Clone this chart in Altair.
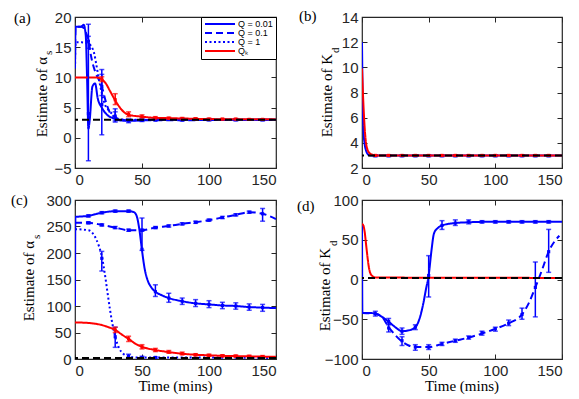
import altair as alt
import pandas as pd

SERIES = ["Q = 0.01", "Q = 0.1", "Q = 1", "Qₖ"]
SERIES_COLORS = ["#0000ff", "#0000ff", "#0000ff", "#ff0000"]
SERIES_DASH = [[1, 0], [7, 4], [2, 2.5], [1, 0]]
X_TICKS = [0, 50, 100, 150]
BLUE = "#0000ff"
RED = "#ff0000"

# ---------------- panel (a): estimate of alpha_s (low range) ----------------
A_Y_TICKS = [-5, 0, 5, 10, 15, 20]
A_TRUE = 3
A_Q001_T = [0, 0.4, 2, 4.5, 6.5, 8, 9, 10, 11, 13, 15, 17, 20, 24, 29, 33, 40, 50, 60, 150]
A_Q001_V = [11.5, 18.4, 18.4, 18.4, 18.7, 17, 10, 1.5, 3, 8.5, 9, 6.5, 5, 3.8, 3.2, 2.9, 2.8, 2.9, 3.0, 3.0]
A_Q01_T = [0, 0.4, 5, 8, 10, 12, 15, 18, 20, 23, 26, 30, 35, 40, 150]
A_Q01_V = [11.5, 18.4, 18.4, 17.5, 16.2, 13.5, 11, 9.5, 8.5, 6, 4.2, 3.4, 3.0, 2.9, 3.0]
A_Q1_T = [0, 0.4, 5, 9, 12, 14.5, 16, 18, 20, 22, 25, 28, 32, 40, 150]
A_Q1_V = [11.5, 15.8, 15.8, 15.7, 15.2, 13.8, 12, 9.5, 7.4, 5.7, 4.6, 3.9, 3.1, 3.0, 3.0]
A_QK_T = [0, 10, 15, 18, 20, 23, 26, 30, 35, 40, 50, 60, 70, 80, 100, 150]
A_QK_V = [10, 10, 10, 9.9, 9.7, 9.0, 7.8, 6.2, 4.6, 3.8, 3.5, 3.3, 3.25, 3.2, 3.1, 3.05]
A_EB_T = [10, 10, 20, 20, 30, 30, 40, 50, 60, 80, 100, 120, 140,
          20, 30, 40, 50, 60, 70, 80, 90, 100, 110, 120, 130, 140]
A_EB_LO = [-3.8, 14.8, 0.5, 7.0, 2.6, 2.8, 2.5, 2.7, 2.8, 2.8, 2.8, 2.8, 2.8,
           9.3, 5.5, 3.5, 3.3, 3.15, 3.1, 3.05, 3.0, 3.0, 3.0, 3.0, 2.95, 2.95]
A_EB_HI = [18.8, 16.8, 11.3, 10.5, 4.3, 4.8, 3.1, 3.1, 3.1, 3.1, 3.1, 3.1, 3.1,
           10.1, 7.3, 4.3, 3.8, 3.5, 3.4, 3.35, 3.3, 3.25, 3.2, 3.2, 3.15, 3.15]
A_EB_C = [4, 16, 5.5, 8.5, 3.3, 3.6, 2.8, 2.9, 2.95, 2.95, 3.0, 3.0, 3.0,
          9.7, 6.3, 3.9, 3.5, 3.3, 3.25, 3.2, 3.15, 3.1, 3.1, 3.1, 3.05, 3.05]
A_EB_COL = [BLUE] * 13 + [RED] * 13

# ---------------- panel (b): estimate of K_d (low range) ----------------
B_Y_TICKS = [2, 4, 6, 8, 10, 12, 14]
B_TRUE = 3
B_Q001_T = [0, 0.5, 1, 2, 3, 4, 6, 10, 150]
B_Q001_V = [12, 7.5, 5.2, 3.9, 3.4, 3.15, 3.0, 3.0, 3.0]
B_QK_T = [0, 1, 2, 3, 4, 6, 8, 12, 150]
B_QK_V = [9.9, 7.2, 5.2, 4.0, 3.5, 3.15, 3.05, 3.0, 3.0]
B_EB_T = [10, 20, 30, 40, 50, 60, 70, 80, 90, 100, 110, 120, 130, 140,
          10, 20, 30, 40, 50, 60, 70, 80, 90, 100, 110, 120, 130, 140]
B_EB_LO = [2.9] * 14 + [2.95] * 14
B_EB_HI = [3.05] * 14 + [3.05] * 14
B_EB_C = [2.98] * 14 + [3.0] * 14
B_EB_COL = [BLUE] * 14 + [RED] * 14

# ---------------- panel (c): estimate of alpha_s (high range) ----------------
C_Y_TICKS = [0, 50, 100, 150, 200, 250, 300]
C_TRUE = 2
C_Q001_T = [0, 0.3, 5, 10, 15, 20, 25, 30, 35, 40, 44, 46, 48, 50, 52, 54, 57, 60, 65, 70,
            80, 90, 100, 110, 120, 130, 140, 150]
C_Q001_V = [100, 268, 269, 270, 273, 276, 278, 279, 279, 279, 277, 270, 245, 205, 170, 150, 135, 127,
            120, 115, 109, 105, 103, 101, 100, 98, 97, 96]
C_Q01_T = [0, 10, 20, 30, 40, 50, 60, 70, 80, 90, 100, 110, 120, 130, 140, 150]
C_Q01_V = [257, 257, 253, 248, 243, 243, 248, 251, 255, 258, 262, 267, 272, 277, 274, 264]
C_Q1_T = [0, 10, 13, 16, 18, 20, 22, 24, 26, 28, 30, 33, 36, 40, 45, 50, 150]
C_Q1_V = [245, 243, 238, 225, 212, 194, 165, 130, 95, 65, 42, 20, 10, 5, 3, 3, 2]
C_QK_T = [0, 10, 20, 25, 30, 35, 40, 45, 50, 60, 70, 80, 90, 100, 110, 120, 130, 140, 150]
C_QK_V = [69, 68, 64, 60, 55, 46, 38, 29, 23, 17, 13, 10, 8, 7, 6, 5.5, 5, 4.5, 4]
C_EB_T = [10, 20, 30, 40, 50, 60, 70, 80, 90, 100, 110, 120, 130, 140,
          10, 20, 30, 40, 50, 60, 70, 80, 90, 100, 110, 120, 130, 140,
          20, 30, 40, 50, 60,
          30, 40, 50, 60, 70, 80, 90, 100, 110, 120, 130, 140]
C_EB_LO = [268, 274, 277, 277, 205, 118, 107, 103, 99, 97, 95, 94, 92, 90,
           255, 251, 246, 241, 241, 246, 249, 253, 256, 260, 265, 270, 275, 260,
           166, 22, 2, 1, 1,
           50, 33, 19, 14, 11, 8, 6, 5, 4, 3.5, 3, 2.5]
C_EB_HI = [272, 278, 281, 281, 266, 140, 124, 115, 112, 110, 107, 106, 104, 103,
           259, 255, 250, 245, 245, 250, 253, 257, 260, 264, 269, 274, 279, 284,
           203, 60, 9, 5, 4,
           60, 43, 27, 20, 16, 13, 10, 9, 8, 7.5, 7, 6.5]
C_EB_C = [270, 276, 279, 279, 207, 127, 115, 109, 105, 103, 101, 100, 98, 97,
          257, 253, 248, 243, 243, 248, 251, 255, 258, 262, 267, 272, 277, 274,
          190, 42, 5, 3, 3,
          55, 38, 23, 17, 13, 10, 8, 7, 6, 5.5, 5, 4.5]
C_EB_COL = [BLUE] * 33 + [RED] * 12

# ---------------- panel (d): estimate of K_d (high range) ----------------
D_Y_TICKS = [-100, -50, 0, 50, 100]
D_TRUE = 2
D_Q001_T = [0, 0.3, 5, 10, 15, 20, 25, 30, 35, 40, 43, 46, 48, 50, 52, 54, 57, 60, 70, 80, 90, 150]
D_Q001_V = [70, -42, -42, -43, -47, -53, -60, -65, -64, -60, -50, -30, -12, 5, 35, 58, 65, 68, 71, 72,
            72.5, 72.5]
D_Q01_T = [0.3, 10, 15, 20, 25, 30, 35, 40, 50, 60, 70, 80, 90, 100, 110, 120, 125, 130, 135, 140, 148]
D_Q01_V = [-42, -43, -47, -60, -70, -78, -83, -85, -85, -81, -77, -73, -68, -62, -55, -44, -30, -10, 12,
           35, 55]
D_QK_T = [0, 1, 2, 3, 4, 5, 6, 8, 10, 150]
D_QK_V = [70, 68, 60, 45, 30, 17, 9, 4, 2.5, 2]
D_EB_T = [10, 20, 30, 40, 50, 60, 70, 80, 90, 100, 110, 120, 130, 140,
          20, 30, 40, 50, 60, 70, 80, 90, 100, 110, 120, 130, 140]
D_EB_LO = [-46, -57, -69, -63, -22, 63, 68, 70, 71, 71, 71, 71, 71, 71,
           -66, -83, -89, -88, -83, -79, -75, -70, -65, -58, -50, -47, 9]
D_EB_HI = [-40, -49, -61, -57, 30, 74, 75, 75, 74, 74, 74, 74, 74, 74,
           -56, -72, -82, -82, -79, -75, -71, -65, -60, -51, -36, 22, 63]
D_EB_C = [-43, -53, -65, -60, 5, 68, 71, 72.5, 72.5, 72.5, 72.5, 72.5, 72.5, 72.5,
          -61, -77, -85, -85, -81, -77, -73, -67, -62, -55, -44, -10, 35]
D_EB_COL = [BLUE] * 27

X_TITLE = "Time (mins)"

SERIF = "Liberation Serif"
SANS = "Liberation Sans"
INK = "#262626"


def lines_df(items):
    rows = []
    for name, ts, vs in items:
        for t, v in zip(ts, vs):
            rows.append({"t": t, "v": v, "series": name})
    return pd.DataFrame(rows)


def err_df(ts, lo, hi, c, col):
    return pd.DataFrame({"t": ts, "lo": lo, "hi": hi, "c": c, "col": col})


def txt(s, x, y, size, **kw):
    return alt.Chart(pd.DataFrame({"s": [s]})).mark_text(
        font=SERIF, fontSize=size, fontWeight="normal", color="black", **kw
    ).encode(text="s:N", x=alt.value(x), y=alt.value(y))


def panel(ldf, edf, true_v, ydom, yticks, w, h, label, lab_xy, ytitle, ysub,
          title_xy, sub_xy, legend, xtitle):
    xs = alt.Scale(domain=[0, 150], nice=False, zero=False, padding=0)
    ys = alt.Scale(domain=ydom, nice=False, zero=False, padding=0)
    if legend:
        leg = alt.Legend(title=None, orient="top-right", offset=0, padding=3,
                         strokeColor="black", fillColor="white", symbolType="stroke",
                         symbolSize=900, symbolStrokeWidth=2, clipHeight=8, rowPadding=0,
                         labelFontSize=9, labelFont=SANS, labelOffset=2, labelColor="black")
    else:
        leg = None
    lines = alt.Chart(ldf).mark_line(interpolate="monotone", strokeWidth=2, clip=True).encode(
        x=alt.X("t:Q", scale=xs, axis=alt.Axis(values=X_TICKS, title=None, orient="bottom")),
        y=alt.Y("v:Q", scale=ys, axis=alt.Axis(values=yticks, title=None, orient="left")),
        color=alt.Color("series:N", scale=alt.Scale(domain=SERIES, range=SERIES_COLORS), legend=leg),
        strokeDash=alt.StrokeDash("series:N", scale=alt.Scale(domain=SERIES, range=SERIES_DASH),
                                  legend=leg),
    )
    layers = [lines]
    for col in [BLUE, RED]:
        sub = edf[edf["col"] == col]
        if len(sub) == 0:
            continue
        layers.append(alt.Chart(sub).mark_errorbar(ticks=True, size=5, thickness=1.5, color=col,
                                                   clip=True).encode(
            x=alt.X("t:Q", scale=xs, axis=None),
            y=alt.Y("lo:Q", scale=ys, axis=None),
            y2="hi:Q"))
        layers.append(alt.Chart(sub).mark_square(size=10, color=col, opacity=1, clip=True).encode(
            x=alt.X("t:Q", scale=xs, axis=None),
            y=alt.Y("c:Q", scale=ys, axis=None)))
    layers.append(alt.Chart(pd.DataFrame({"v": [true_v]})).mark_rule(
        color="black", strokeDash=[7, 4], strokeWidth=2).encode(
        y=alt.Y("v:Q", scale=ys, axis=None)))
    layers.append(alt.Chart(ldf).mark_line(opacity=0).encode(
        x=alt.X("t:Q", scale=xs, axis=alt.Axis(orient="top", values=X_TICKS, labels=False, title=None)),
        y=alt.Y("v:Q", scale=ys, axis=alt.Axis(orient="right", values=yticks, labels=False, title=None))))
    layers.append(txt(label, lab_xy[0], lab_xy[1], 15, align="left", baseline="middle"))
    layers.append(txt(ytitle, title_xy[0], title_xy[1], 15, align="right", baseline="middle", angle=270))
    layers.append(txt(ysub, sub_xy[0], sub_xy[1], 11, align="left", baseline="middle", angle=270))
    if xtitle:
        layers.append(txt(xtitle, w / 2, h + 27, 15, align="center", baseline="middle"))
    return alt.layer(*layers).resolve_axis(x="independent", y="independent").properties(
        width=w, height=h)


pa = panel(
    lines_df([(SERIES[0], A_Q001_T, A_Q001_V), (SERIES[1], A_Q01_T, A_Q01_V),
              (SERIES[2], A_Q1_T, A_Q1_V), (SERIES[3], A_QK_T, A_QK_V)]),
    err_df(A_EB_T, A_EB_LO, A_EB_HI, A_EB_C, A_EB_COL),
    A_TRUE, [-5, 20], A_Y_TICKS, 201, 151, "(a)", (-61, 1), "Estimate of α", "s",
    (-33, 40), (-26, 38), True, None)
pb = panel(
    lines_df([(SERIES[0], B_Q001_T, B_Q001_V), (SERIES[3], B_QK_T, B_QK_V)]),
    err_df(B_EB_T, B_EB_LO, B_EB_HI, B_EB_C, B_EB_COL),
    B_TRUE, [2, 14], B_Y_TICKS, 200, 151, "(b)", (-63, -1), "Estimate of K", "d",
    (-35, 37), (-26, 36), False, None)
pc = panel(
    lines_df([(SERIES[0], C_Q001_T, C_Q001_V), (SERIES[1], C_Q01_T, C_Q01_V),
              (SERIES[2], C_Q1_T, C_Q1_V), (SERIES[3], C_QK_T, C_QK_V)]),
    err_df(C_EB_T, C_EB_LO, C_EB_HI, C_EB_C, C_EB_COL),
    C_TRUE, [0, 300], C_Y_TICKS, 201, 159, "(c)", (-64, 0), "Estimate of α", "s",
    (-46, 41), (-38, 39), False, X_TITLE)
pd_ = panel(
    lines_df([(SERIES[0], D_Q001_T, D_Q001_V), (SERIES[1], D_Q01_T, D_Q01_V),
              (SERIES[3], D_QK_T, D_QK_V)]),
    err_df(D_EB_T, D_EB_LO, D_EB_HI, D_EB_C, D_EB_COL),
    D_TRUE, [-100, 100], D_Y_TICKS, 200, 159, "(d)", (-65, 6), "Estimate of K", "d",
    (-37, 48), (-28, 46), False, X_TITLE)

chart = alt.concat(pa, pb, pc, pd_, columns=2, spacing={"row": 32, "column": 86},
                   bounds="flush").resolve_scale(
    color="independent", strokeDash="independent"
).properties(
    padding={"left": 2, "top": 0, "right": 0, "bottom": 0}
).configure_view(
    stroke=INK, strokeWidth=1.2
).configure_axis(
    labelFont=SANS, labelFontSize=15, labelColor=INK, labelPadding=4,
    tickColor=INK, tickSize=5, tickWidth=1, offset=-5, domain=False, grid=False
)

chart.save("out.html", embed_options={"renderer": "svg", "actions": False})
